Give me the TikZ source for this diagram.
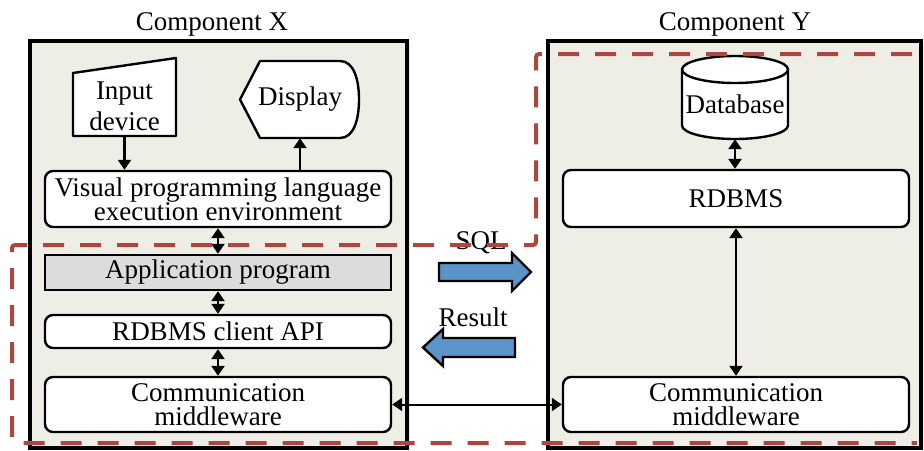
\documentclass[tikz,border=0pt]{standalone}
\usepackage{fontspec}
\setmainfont{Liberation Serif}
\usetikzlibrary{arrows.meta}
\usetikzlibrary{shadows}
\definecolor{panelfill}{HTML}{EFEEE6}
\definecolor{appgray}{HTML}{DCDCDC}
\definecolor{dashred}{HTML}{AA4741}
\definecolor{flowblue}{HTML}{5B94C9}

\begin{document}
\begin{tikzpicture}[x=1pt,y=-1pt,
    font=\fontsize{27}{24}\selectfont,
    compbox/.style={draw,line width=3.4pt,fill=panelfill,inner sep=0pt,
      drop shadow={opacity=0.15,shadow xshift=3pt,shadow yshift=-1pt}},
    layerbox/.style={draw,line width=2.4pt,fill=white,rounded corners=8pt,
      minimum width=346pt,inner sep=0pt,align=center},
    shapebox/.style={draw,line width=2.4pt,fill=white,line join=round},
    link/.style={line width=2.4pt,
      {Triangle[width=13pt,length=10pt]}-{Triangle[width=13pt,length=10pt]}},
    oneway/.style={line width=2.4pt,-{Triangle[width=13pt,length=10pt]}},
    flowarrow/.style={draw,line width=2.4pt,fill=flowblue,line join=miter},
    ownerline/.style={draw=dashred,line width=4pt,
      dash pattern=on 21pt off 16pt,rounded corners=3pt}]
    \useasboundingbox (0,0) rectangle (924,450);

    % the two components
    \node[compbox,minimum width=377pt,minimum height=407pt] (compx) at (218.5,244.5) {};
    \node[compbox,minimum width=373pt,minimum height=407pt] (compy) at (734.5,244.5) {};
    \node (titlex) at (212,24) {Component X};
    \node (titley) at (735,24) {Component Y};

    % component X
    \draw[shapebox] (73,73) -- (176,58) -- (176,136) -- (73,136) -- cycle;
    \node[inner sep=0pt,minimum width=103pt,minimum height=60pt,align=center,
      font=\fontsize{27}{31}\selectfont] (input) at (124.5,106) {Input\\device};
    \draw[shapebox] (240,99.5) -- (260,61) -- (340,61)
      .. controls (354,61) and (359,80) .. (359,99.5)
      .. controls (359,119) and (354,138) .. (340,138) -- (260,138) -- cycle;
    \node[inner sep=0pt,minimum width=118pt,minimum height=77pt] (display) at (300,99.5) {Display};
    \node[layerbox,minimum height=56pt] (vpl) at (218,199)
      {Visual programming language\\execution environment};
    \node[layerbox,rounded corners=0pt,fill=appgray,minimum height=35pt] (app) at (218,272.5)
      {Application program};
    \node[layerbox,minimum height=33pt] (api) at (218,331.5) {RDBMS client API};
    \node[layerbox,minimum height=55pt] (cml) at (218,404.5) {Communication\\middleware};

    % component Y
    \draw[shapebox] (682,69.5) -- (682,125.5)
      arc[start angle=180,end angle=360,x radius=53pt,y radius=13.5pt] -- (788,69.5)
      arc[start angle=0,end angle=180,x radius=53pt,y radius=13.5pt] -- cycle;
    \draw[shapebox,fill=none] (682,69.5)
      arc[start angle=180,end angle=360,x radius=53pt,y radius=13.5pt];
    \node[inner sep=0pt,minimum width=106pt,minimum height=69.5pt] (db) at (735,104.25) {Database};
    \node[layerbox,minimum height=57pt] (rdbms) at (736,198.5) {RDBMS};
    \node[layerbox,minimum height=55pt] (cmr) at (736,404.5) {Communication\\middleware};

    % connectors
    \draw[oneway] (input.south) -- (input.south |- vpl.north);
    \draw[oneway] (vpl.north -| display.south) -- (display.south);
    \draw[link] (vpl) -- (app);
    \draw[link] (app) -- (api);
    \draw[link] (api) -- (cml);
    \draw[link] (db) -- (db.south |- rdbms.north);
    \draw[link] (rdbms) -- (cmr);
    \draw[link,line width=2pt] (cml) -- (cmr);

    % SQL and result
    \node (sql) at (481,243) {SQL};
    \node (result) at (473,317) {Result};
    \draw[flowarrow] (439,263) -- (512,263) -- (512,253) -- (531,272) -- (512,291)
      -- (512,281) -- (439,281) -- cycle;
    \draw[flowarrow] (515,338) -- (443,338) -- (443,329) -- (423,347.5) -- (443,366)
      -- (443,357) -- (515,357) -- cycle;

    % dashed ownership outline
    \draw[ownerline] (912,54) -- (536,54) -- (536,245) -- (12,245) -- (12,443) -- (917,443);
\end{tikzpicture}
\end{document}
